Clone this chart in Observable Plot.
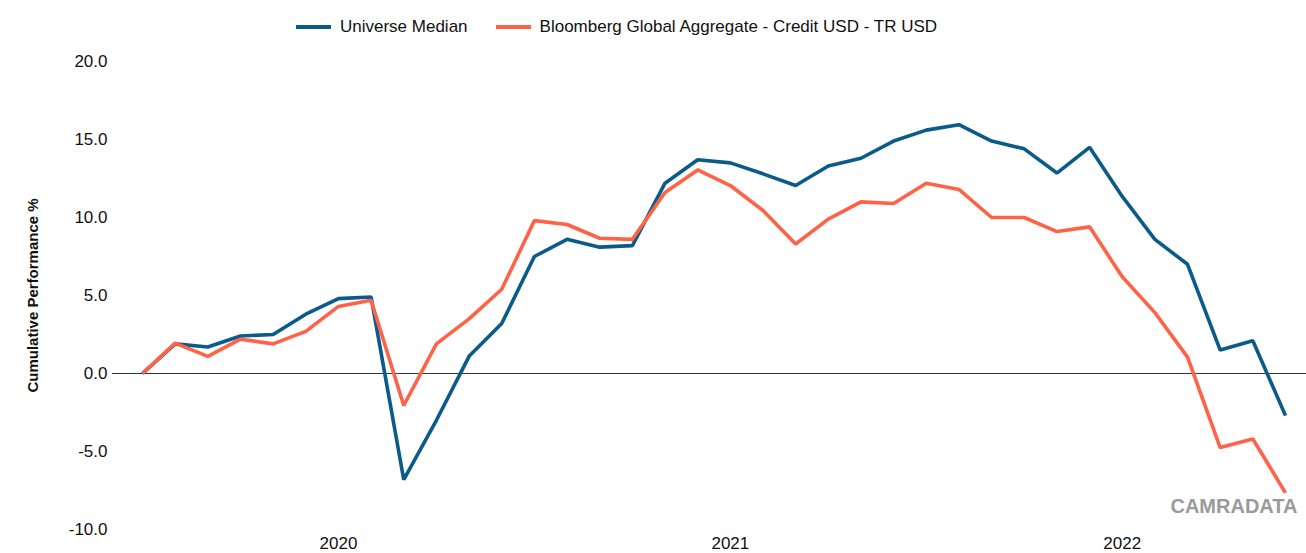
<!DOCTYPE html>
<html>
<head>
<meta charset="utf-8">
<script src="https://cdn.jsdelivr.net/npm/d3@7"></script>
<script src="https://cdn.jsdelivr.net/npm/@observablehq/plot@0.6"></script>
<style>
  body { margin: 0; background: #fff; font-family: "Liberation Sans Narrow", "Arial Narrow", "Liberation Sans", Arial, sans-serif; }
  #wrap { position: relative; width: 1306px; height: 553px; }
  #legend { position: absolute; top: 17px; left: 296px; display: flex; align-items: center; font-size: 17px; color: #111; }
  .sw { display: inline-block; width: 35px; height: 4px; margin-right: 9px; }
  .item { display: flex; align-items: center; margin-right: 28px; }
</style>
</head>
<body>
<div id="wrap">
  <div id="legend"></div>
</div>
<script>
// Monthly periods Jul 2019 .. Jun 2022
const months = d3.utcMonth.range(new Date(Date.UTC(2019, 6, 1)), new Date(Date.UTC(2022, 6, 1))).map(d => d3.utcFormat("%Y-%m")(d));
const seriesNames = ["Universe Median", "Bloomberg Global Aggregate - Credit USD - TR USD"];
const seriesColors = ["#0b5b8a", "#ff6347"];
const universeMedian = [0, 1.9, 1.7, 2.4, 2.5, 3.8, 4.8, 4.9, -6.8, -3.0, 1.1, 3.2,
  7.5, 8.6, 8.1, 8.2, 12.2, 13.7, 13.5, 12.8, 12.05, 13.3, 13.8, 14.9,
  15.6, 15.95, 14.9, 14.4, 12.85, 14.5, 11.35, 8.6, 7.0, 1.5, 2.1, -2.7];
const benchmark = [0, 1.95, 1.1, 2.2, 1.9, 2.7, 4.3, 4.7, -2.05, 1.9, 3.5, 5.4,
  9.8, 9.55, 8.67, 8.6, 11.6, 13.05, 12.05, 10.45, 8.3, 9.9, 11.0, 10.9,
  12.2, 11.8, 10.0, 10.0, 9.1, 9.4, 6.2, 3.9, 1.05, -4.75, -4.2, -7.65];
const yTicks = [-10, -5, 0, 5, 10, 15, 20];
const xTickMonths = ["2020-01", "2021-01", "2022-01"];
const xTickLabels = ["2020", "2021", "2022"];

const rows = [];
[universeMedian, benchmark].forEach((vals, s) => {
  vals.forEach((v, i) => rows.push({ idx: i, month: months[i], value: v, series: seriesNames[s] }));
});
const xTickIdx = xTickMonths.map(m => months.indexOf(m));

const chart = Plot.plot({
  width: 1306,
  height: 553,
  marginLeft: 112,
  marginRight: 0,
  marginTop: 61,
  marginBottom: 24,
  style: { fontFamily: '"Liberation Sans Narrow", "Arial Narrow", "Liberation Sans", Arial, sans-serif', fontSize: "17px", color: "#111", background: "#fff" },
  x: { type: "linear", domain: [0, months.length - 1], range: [142, 1285] },
  y: { domain: [-10, 20] },
  color: { domain: seriesNames, range: seriesColors },
  marks: [
    Plot.axisY({ ticks: yTicks, tickSize: 0, tickPadding: 5, tickFormat: d => d.toFixed(1), fontSize: 17,
      label: "Cumulative Performance %", labelAnchor: "center", labelArrow: "none", labelOffset: 85 }),
    Plot.axisX({ ticks: xTickIdx, tickSize: 0, tickPadding: 7, tickFormat: d => xTickLabels[xTickIdx.indexOf(d)], fontSize: 17, label: null }),
    Plot.ruleY([0], { stroke: "#333", strokeWidth: 1.2 }),
    Plot.line(rows, { x: "idx", y: "value", stroke: "series", z: "series", strokeWidth: 3.6, strokeLinejoin: "miter", strokeLinecap: "butt" }),
    Plot.text(["CAMRADATA"], { frameAnchor: "bottom-right", dx: -9, dy: -17, fill: "#9a9a9a", fontWeight: "bold", fontSize: 20, fontFamily: '"Liberation Sans", Arial, sans-serif' })
  ]
});

const wrap = document.getElementById("wrap");
wrap.appendChild(chart);
d3.select(chart).select('g[aria-label="y-axis label"] text').style("font-weight", "bold").style("font-size", "15px");

const legend = document.getElementById("legend");
seriesNames.forEach((n, i) => {
  const it = document.createElement("div");
  it.className = "item";
  it.innerHTML = `<span class="sw" style="background:${seriesColors[i]}"></span><span>${n}</span>`;
  legend.appendChild(it);
});
</script>
</body>
</html>
